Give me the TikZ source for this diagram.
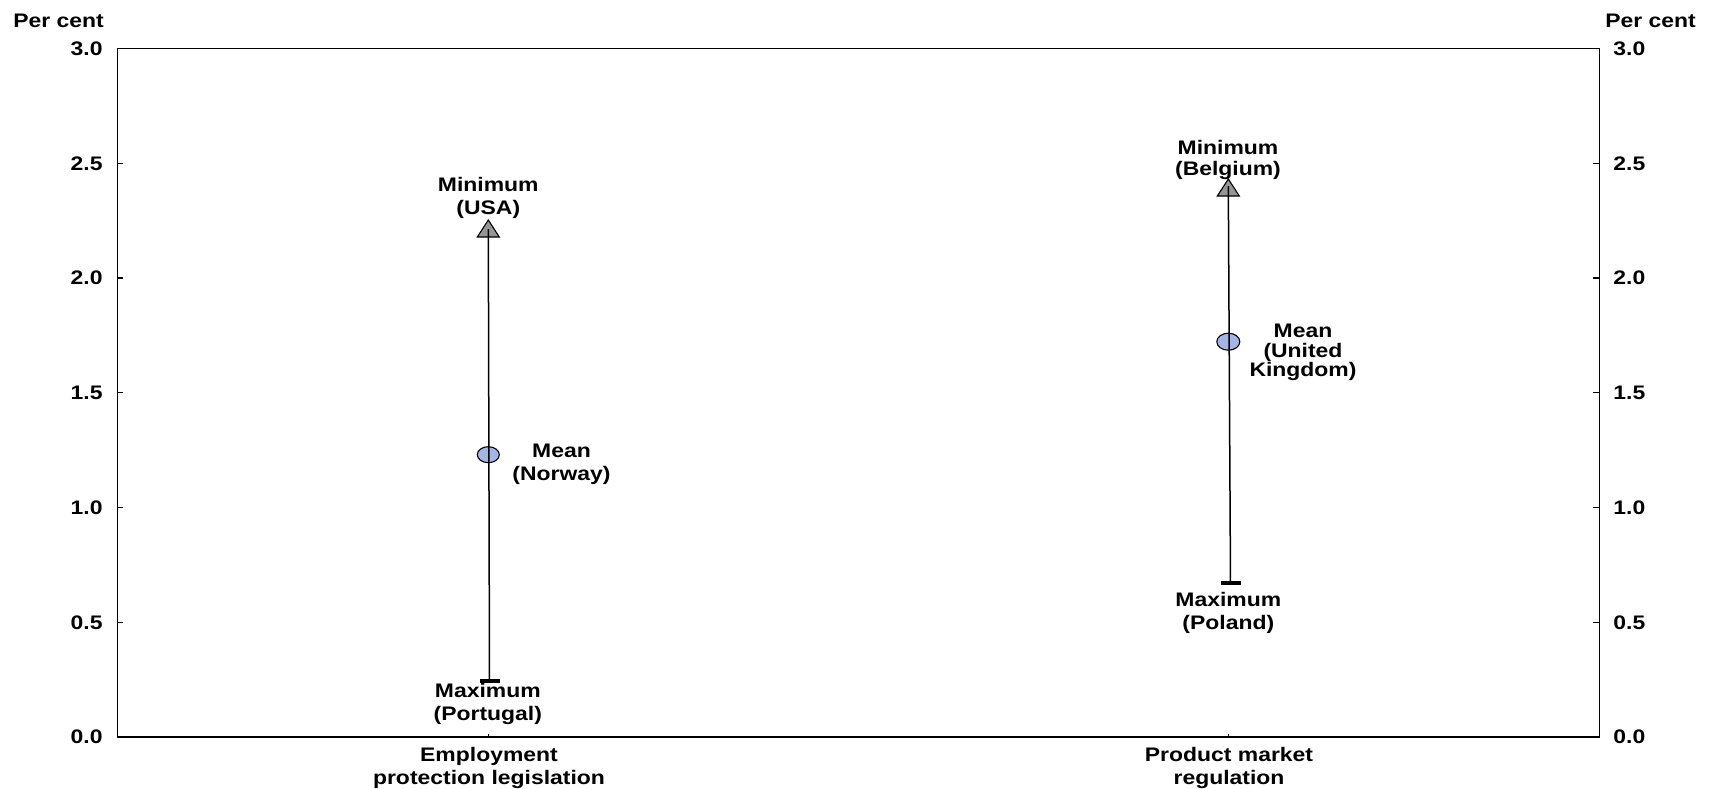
\documentclass[tikz,border=0pt]{standalone}
\usepackage{fontspec}
\usetikzlibrary{shapes.geometric}
\setmainfont{Liberation Sans}[FakeStretch=1.17]
\begin{document}
\begin{tikzpicture}[x=0.5pt,y=-0.5pt,
  lbl/.style={font=\bfseries\fontsize{9.8pt}{11.65pt}\selectfont, inner sep=0pt, align=center, anchor=north},
  tick/.style={font=\bfseries\fontsize{9.8pt}{11.65pt}\selectfont, inner sep=0pt},
  frame/.style={draw=black, line width=0.65pt},
  series/.style={draw=black, line width=0.75pt},
  minmark/.style={draw=black, line width=0.55pt, fill=mingray},
  meanmark/.style={draw=black, line width=0.55pt, fill=meanblue, shape=ellipse},
  maxmark/.style={fill=black}
]
\definecolor{mingray}{RGB}{150,150,150}
\definecolor{meanblue}{RGB}{164,182,228}
\useasboundingbox (0,0) rectangle (1709,788);
% plot frame
\draw[frame] (117.3,48.5) rectangle (1599.3,737);
% y ticks and labels
\foreach \v/\t in {0/0.0,0.5/0.5,1/1.0,1.5/1.5,2/2.0,2.5/2.5,3/3.0}{
  \pgfmathsetmacro{\yy}{737-229.5*\v}
  \draw[line width=0.55pt] (117.3,\yy) -- (123.3,\yy);
  \draw[line width=0.55pt] (1599.3,\yy) -- (1593.3,\yy);
  \node[tick, anchor=east] (yl\v) at (103,\yy) {\t};
  \node[tick, anchor=west] (yr\v) at (1613,\yy) {\t};
}
\node[tick, anchor=north west] (pcl) at (13,13.3) {Per cent};
\node[tick, anchor=north west] (pcr) at (1605,13.3) {Per cent};
% x ticks
\draw[line width=0.55pt] (488.3,737) -- (488.3,733.5);
\draw[line width=0.55pt] (1228.3,737) -- (1228.3,733.5);
\node[lbl] (cat1) at (489,747) {Employment\\protection legislation};
\node[lbl] (cat2) at (1229,747) {Product market\\regulation};
% EPL series
\filldraw[minmark] (488.3,220) -- (499.3,237) -- (477.3,237) -- cycle;
\coordinate (epltop) at (488.3,229);
\node[meanmark, minimum width=11pt, minimum height=8pt, inner sep=0pt] (eplmean) at (488.3,454.7) {};
\node[maxmark, minimum width=10pt, minimum height=2.2pt, inner sep=0pt] (eplmax) at (489.5,681) {};
\draw[series] (epltop) -- (eplmax.center);
% PMR series
\filldraw[minmark] (1228.3,179) -- (1239.3,196) -- (1217.3,196) -- cycle;
\coordinate (pmrtop) at (1228.3,186);
\node[meanmark, minimum width=11.5pt, minimum height=8.5pt, inner sep=0pt] (pmrmean) at (1228.3,341.7) {};
\node[maxmark, minimum width=10pt, minimum height=2.2pt, inner sep=0pt] (pmrmax) at (1230.5,583) {};
\draw[series] (pmrtop) -- (pmrmax.center);
% labels
\node[lbl] (eplminl) at (488.3,176.7) {Minimum\\(USA)};
\node[lbl] (eplmeanl) at (561.5,443.3) {Mean\\(Norway)};
\node[lbl] (eplmaxl) at (487.8,682.7) {Maximum\\(Portugal)};
\node[lbl, font=\bfseries\fontsize{9.8pt}{10.35pt}\selectfont] (pmrminl) at (1228,140) {Minimum\\(Belgium)};
\node[lbl, font=\bfseries\fontsize{9.8pt}{9.65pt}\selectfont] (pmrmeanl) at (1303,324) {Mean\\(United\\Kingdom)};
\node[lbl] (pmrmaxl) at (1228.3,591.7) {Maximum\\(Poland)};
\end{tikzpicture}
\end{document}
